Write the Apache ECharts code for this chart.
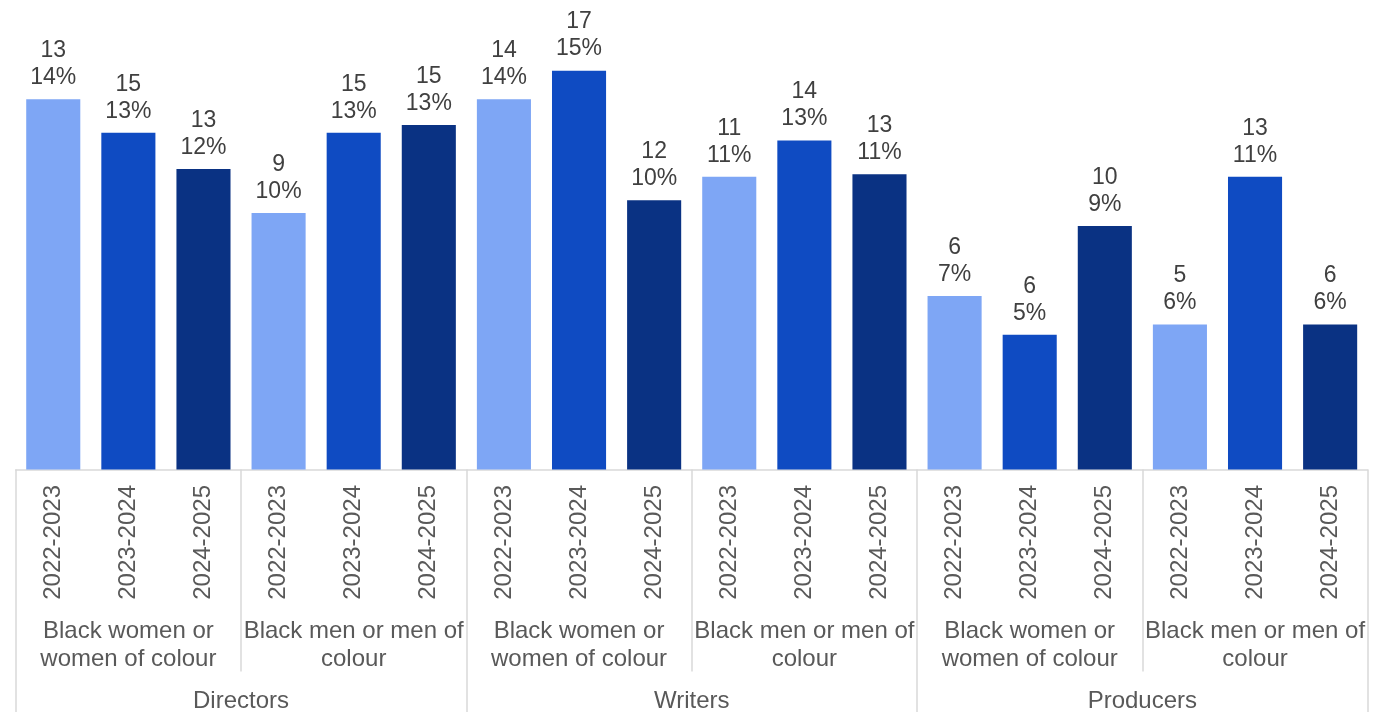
<!DOCTYPE html>
<html>
<head>
<meta charset="utf-8">
<script src="https://cdn.jsdelivr.net/npm/echarts@6/dist/echarts.min.js"></script>
<style>
html,body{margin:0;padding:0;background:#fff;}
#chart{width:1393px;height:712px;}
</style>
</head>
<body>
<div id="chart"></div>
<script>
// Level 1: years (one per bar)
const years = ["2022-2023","2023-2024","2024-2025"];
// Level 2: subgroups
const subgroups = ["Black women or\nwomen of colour", "Black men or men of\ncolour"];
// Level 3: roles
const roles = ["Directors", "Writers", "Producers"];
// Bar values: percentage
const pctValues = [14.3, 13.0, 11.6, 9.9, 13.0, 13.3, 14.3, 15.4, 10.4, 11.3, 12.7, 11.4, 6.7, 5.2, 9.4, 5.6, 11.3, 5.6];
// Counts shown above the percentage in each label
const counts = [13, 15, 13, 9, 15, 15, 14, 17, 12, 11, 14, 13, 6, 6, 10, 5, 13, 6];
const yearColors = ["#7EA6F5", "#0F4BC2", "#0A3283"];

const yearCats = [];
roles.forEach(() => subgroups.forEach(() => years.forEach(y => yearCats.push(y))));
const subCats = [];
roles.forEach(() => subgroups.forEach(s => subCats.push(s)));

const chart = echarts.init(document.getElementById('chart'), null, {renderer: 'canvas'});
const FONT = '"Liberation Sans", Arial, sans-serif';
const sepColor = '#D9D9D9';

chart.setOption({
  animation: false,
  grid: {left: 15.7, right: 25.3, top: 3.3, bottom: 242.5, containLabel: false, outerBoundsMode: 'none'},
  xAxis: [
    {
      type: 'category', data: yearCats, position: 'bottom',
      axisLine: {show: true, lineStyle: {color: sepColor, width: 1.5}},
      axisTick: {show: false},
      axisLabel: {interval: 0, rotate: 90, margin: 15.5, fontSize: 24, color: '#595959', fontFamily: FONT}
    },
    {
      type: 'category', data: subCats, position: 'bottom', gridIndex: 0,
      axisLine: {show: false},
      axisTick: {show: true, interval: 0, length: 202, lineStyle: {color: sepColor, width: 1.5}},
      axisLabel: {interval: 0, margin: 148, fontSize: 24, lineHeight: 28, color: '#595959', fontFamily: FONT, align: 'center'}
    },
    {
      type: 'category', data: roles, position: 'bottom', gridIndex: 0,
      axisLine: {show: false},
      axisTick: {show: true, interval: 0, length: 250, lineStyle: {color: sepColor, width: 1.5}},
      axisLabel: {interval: 0, margin: 217.5, fontSize: 24, lineHeight: 28, color: '#595959', fontFamily: FONT}
    }
  ],
  yAxis: {type: 'value', min: 0, max: 18, show: false, splitLine: {show: false}},
  series: [{
    type: 'bar',
    xAxisIndex: 0,
    barCategoryGap: '28%',
    data: pctValues.map((v, i) => ({value: v, itemStyle: {color: yearColors[i % 3]}})),
    label: {
      show: true, position: 'top', distance: 8,
      fontSize: 23, lineHeight: 27, color: '#404040', fontFamily: FONT, align: 'center',
      formatter: p => counts[p.dataIndex] + '\n' + Math.round(p.value) + '%'
    }
  }]
});
</script>
</body>
</html>
